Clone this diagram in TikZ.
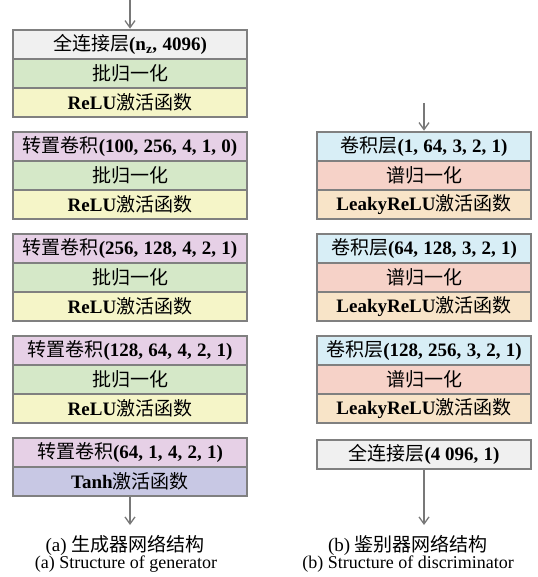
\documentclass[tikz,border=0pt]{standalone}
\usepackage{fontspec}
\setmainfont{Liberation Serif}
\newfontfamily\cjk{Noto Sans CJK SC}
\usetikzlibrary{arrows.meta,fit}
\definecolor{bordergray}{RGB}{128,128,128}
\definecolor{arrowgray}{RGB}{120,120,120}
\definecolor{cgray}{RGB}{240,240,240}
\definecolor{cgreen}{RGB}{213,232,200}
\definecolor{cyellow}{RGB}{245,245,200}
\definecolor{cpurple}{RGB}{230,208,230}
\definecolor{ctanh}{RGB}{200,200,228}
\definecolor{ccyan}{RGB}{216,238,246}
\definecolor{cpink}{RGB}{246,210,200}
\definecolor{corange}{RGB}{248,228,200}
\newcommand\zhtxt[1]{{\cjk\mdseries #1}}
\newcommand\boxfont{\fontsize{19}{22}\selectfont\bfseries\spaceskip=0.28em\relax}
\tikzset{
  row/.style={draw=bordergray, line width=1.2pt, minimum height=29pt, inner sep=0pt, outer sep=0pt, anchor=north west, font=\boxfont},
  lrow/.style={row, minimum width=234pt},
  rrow/.style={row, minimum width=214pt},
  grp/.style={draw=bordergray, line width=2.6pt, inner sep=0pt},
  flow/.style={draw=arrowgray, line width=1.3pt, -{Straight Barb[length=7pt,width=10pt,line width=1.3pt]}},
  capzh/.style={font=\fontsize{19}{21}\selectfont, inner sep=0pt},
  capen/.style={font=\fontsize{18}{20}\selectfont, inner sep=0pt}
}
\begin{document}
\begin{tikzpicture}[x=1pt,y=-1pt]
\useasboundingbox (0,0) rectangle (537,577);
% ---------- generator ----------
\node[lrow, fill=cgray] (a1) at (13,30) {\zhtxt{全连接层}(n\textsubscript{z}, 4096)};
\node[lrow, fill=cgreen] (a2) at (a1.south west) {\zhtxt{批归一化}};
\node[lrow, fill=cyellow] (a3) at (a2.south west) {ReLU\zhtxt{激活函数}};
\node[grp, fit=(a1)(a3)] (A) {};

\node[lrow, fill=cpurple] (b1) at (13,132) {\zhtxt{转置卷积}(100, 256, 4, 1, 0)};
\node[lrow, fill=cgreen] (b2) at (b1.south west) {\zhtxt{批归一化}};
\node[lrow, fill=cyellow] (b3) at (b2.south west) {ReLU\zhtxt{激活函数}};
\node[grp, fit=(b1)(b3)] (B) {};

\node[lrow, fill=cpurple] (c1) at (13,234) {\zhtxt{转置卷积}(256, 128, 4, 2, 1)};
\node[lrow, fill=cgreen] (c2) at (c1.south west) {\zhtxt{批归一化}};
\node[lrow, fill=cyellow] (c3) at (c2.south west) {ReLU\zhtxt{激活函数}};
\node[grp, fit=(c1)(c3)] (C) {};

\node[lrow, fill=cpurple] (d1) at (13,336) {\zhtxt{转置卷积}(128, 64, 4, 2, 1)};
\node[lrow, fill=cgreen] (d2) at (d1.south west) {\zhtxt{批归一化}};
\node[lrow, fill=cyellow] (d3) at (d2.south west) {ReLU\zhtxt{激活函数}};
\node[grp, fit=(d1)(d3)] (D) {};

\node[lrow, fill=cpurple] (e1) at (13,438) {\zhtxt{转置卷积}(64, 1, 4, 2, 1)};
\node[lrow, fill=ctanh] (e2) at (e1.south west) {Tanh\zhtxt{激活函数}};
\node[grp, fit=(e1)(e2)] (E) {};

\coordinate (inA) at (130,0);
\coordinate (outA) at (130,525);
\draw[flow] (inA) -- (A.north);
\draw[flow] (E.south) -- (outA);

\node[capzh] (capa1) at (125,545) {(a) \zhtxt{生成器网络结构}};
\node[capen] (capa2) at (126,564) {(a) Structure of generator};

% ---------- discriminator ----------
\node[rrow, fill=ccyan] (p1) at (317,132) {\zhtxt{卷积层}(1, 64, 3, 2, 1)};
\node[rrow, fill=cpink] (p2) at (p1.south west) {\zhtxt{谱归一化}};
\node[rrow, fill=corange] (p3) at (p2.south west) {LeakyReLU\zhtxt{激活函数}};
\node[grp, fit=(p1)(p3)] (P) {};

\node[rrow, fill=ccyan] (q1) at (317,234) {\zhtxt{卷积层}(64, 128, 3, 2, 1)};
\node[rrow, fill=cpink] (q2) at (q1.south west) {\zhtxt{谱归一化}};
\node[rrow, fill=corange] (q3) at (q2.south west) {LeakyReLU\zhtxt{激活函数}};
\node[grp, fit=(q1)(q3)] (Q) {};

\node[rrow, fill=ccyan] (r1) at (317,336) {\zhtxt{卷积层}(128, 256, 3, 2, 1)};
\node[rrow, fill=cpink] (r2) at (r1.south west) {\zhtxt{谱归一化}};
\node[rrow, fill=corange] (r3) at (r2.south west) {LeakyReLU\zhtxt{激活函数}};
\node[grp, fit=(r1)(r3)] (R) {};

\node[rrow, fill=cgray] (s1) at (317,440) {\zhtxt{全连接层}(4\hspace{0.25em}096, 1)};
\node[grp, fit=(s1)] (S) {};

\coordinate (inP) at (424,103);
\coordinate (outS) at (424,525);
\draw[flow] (inP) -- (P.north);
\draw[flow] (S.south) -- (outS);

\node[capzh] (capb1) at (408,545) {(b) \zhtxt{鉴别器网络结构}};
\node[capen] (capb2) at (408,564) {(b) Structure of discriminator};
\end{tikzpicture}
\end{document}
